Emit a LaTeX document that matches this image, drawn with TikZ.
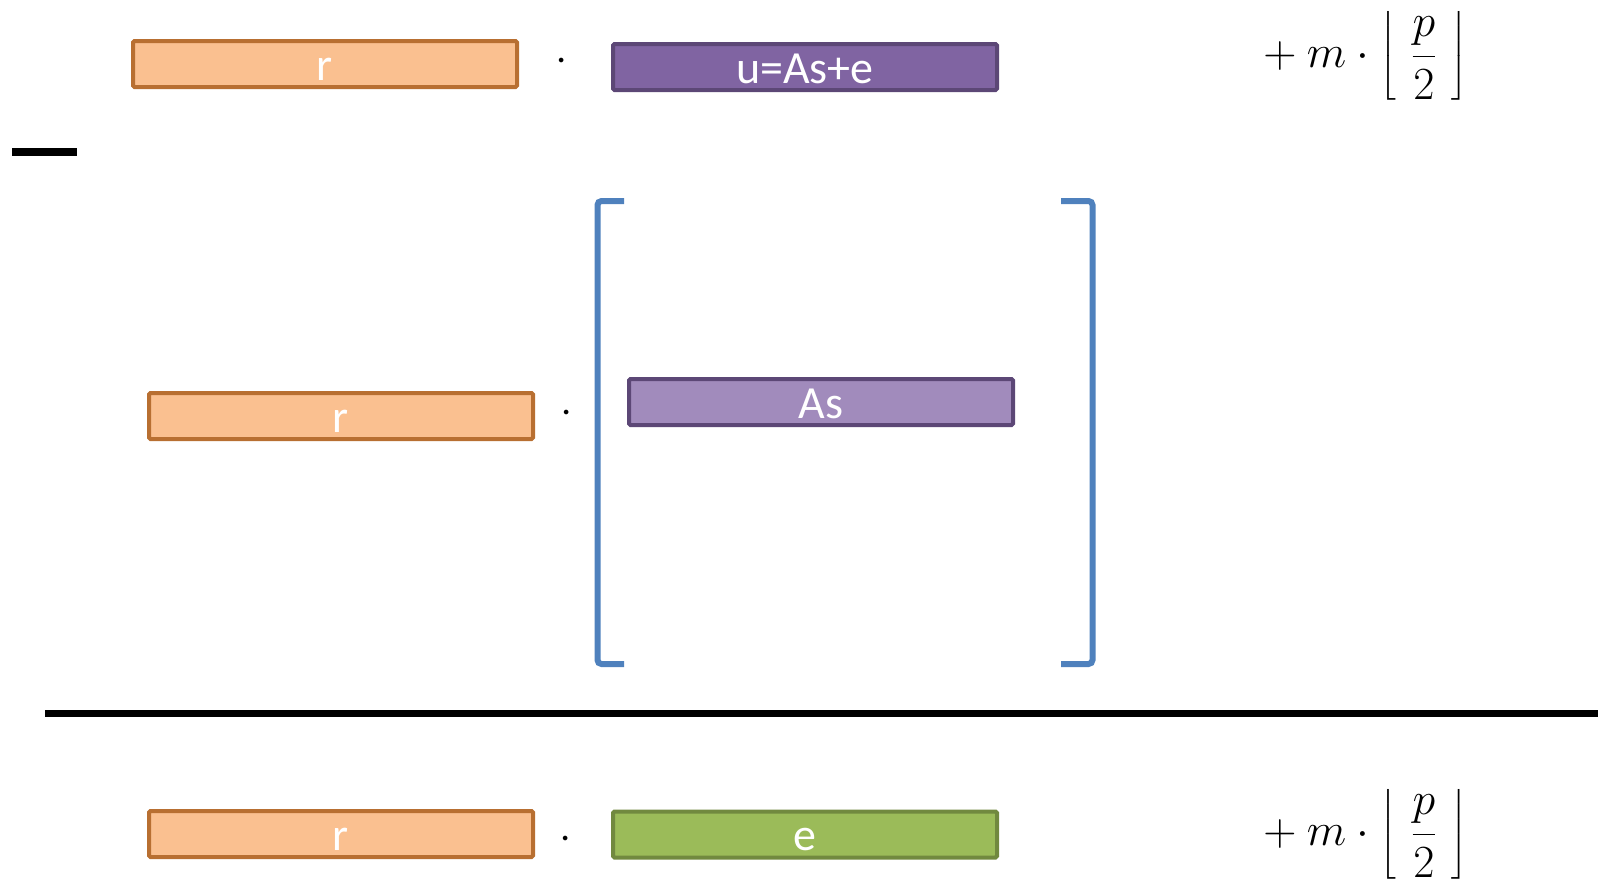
\RequirePackage{fix-cm}
\documentclass[tikz,border=0pt]{standalone}
\usepackage{fontspec}
\usepackage{amsmath}
\setmainfont{Carlito}
\definecolor{orfill}{HTML}{FAC090}
\definecolor{ordraw}{HTML}{B86F31}
\definecolor{pufill}{HTML}{8064A2}
\definecolor{pudraw}{HTML}{5C4776}
\definecolor{lpfill}{HTML}{A18BBC}
\definecolor{grfill}{HTML}{9BBB59}
\definecolor{grdraw}{HTML}{71893F}
\definecolor{brblue}{HTML}{4F81BD}
\tikzset{
  vecbox/.style={draw, line width=4pt, rounded corners=1.5pt, minimum width=384pt, minimum height=46pt,
    inner sep=0pt, text=white, text height=32pt, text depth=0pt, font=\fontsize{46}{52}\selectfont},
  rbox/.style={vecbox, fill=orfill, draw=ordraw},
  ubox/.style={vecbox, fill=pufill, draw=pudraw},
  asbox/.style={vecbox, fill=lpfill, draw=pudraw},
  ebox/.style={vecbox, fill=grfill, draw=grdraw},
  dotop/.style={font=\fontsize{44}{50}\selectfont, inner sep=0pt},
  term/.style={anchor=west, inner sep=0pt, font=\fontsize{46}{52}\selectfont},
  brack/.style={draw=brblue, line width=6pt, rounded corners=4pt}
}
\newcommand{\roundterm}{${}+m\cdot\left\lfloor\mkern6mu\dfrac{p}{2}\mkern6mu\right\rfloor$}
\begin{document}
\begin{tikzpicture}[x=1pt, y=-1pt]
  \useasboundingbox (0,0) rectangle (1598,884);
  % first line: r . u + m floor(p/2)
  \node[rbox] (r1) at (325,64) {r};
  \node[dotop] (d1) at (562,62) {$\cdot$};
  \node[ubox] (u) at (805,67) {u=As+e};
  \node[term] (m1) at (1253,56) {\roundterm};
  \draw[line width=8pt] (12,152) coordinate (minusl) -- (77,152) coordinate (minusr);
  % second line: r . [ As ]
  \node[rbox] (r2) at (341,416) {r};
  \node[dotop] (d2) at (567,414) {$\cdot$};
  \node[asbox] (as) at (821,402) {As};
  \draw[brack] (624,201) -- (597.5,201) -- (597.5,664) -- (624,664);
  \draw[brack] (1061,201) -- (1092.5,201) -- (1092.5,664) -- (1061,664);
  \draw[line width=7pt] (45,713.5) coordinate (barl) -- (1598,713.5) coordinate (barr);
  % result: r . e + m floor(p/2)
  \node[rbox] (r3) at (341,834) {r};
  \node[dotop] (d3) at (566,840) {$\cdot$};
  \node[ebox] (e) at (805,834.5) {e};
  \node[term] (m3) at (1253,834) {\roundterm};
\end{tikzpicture}
\end{document}
